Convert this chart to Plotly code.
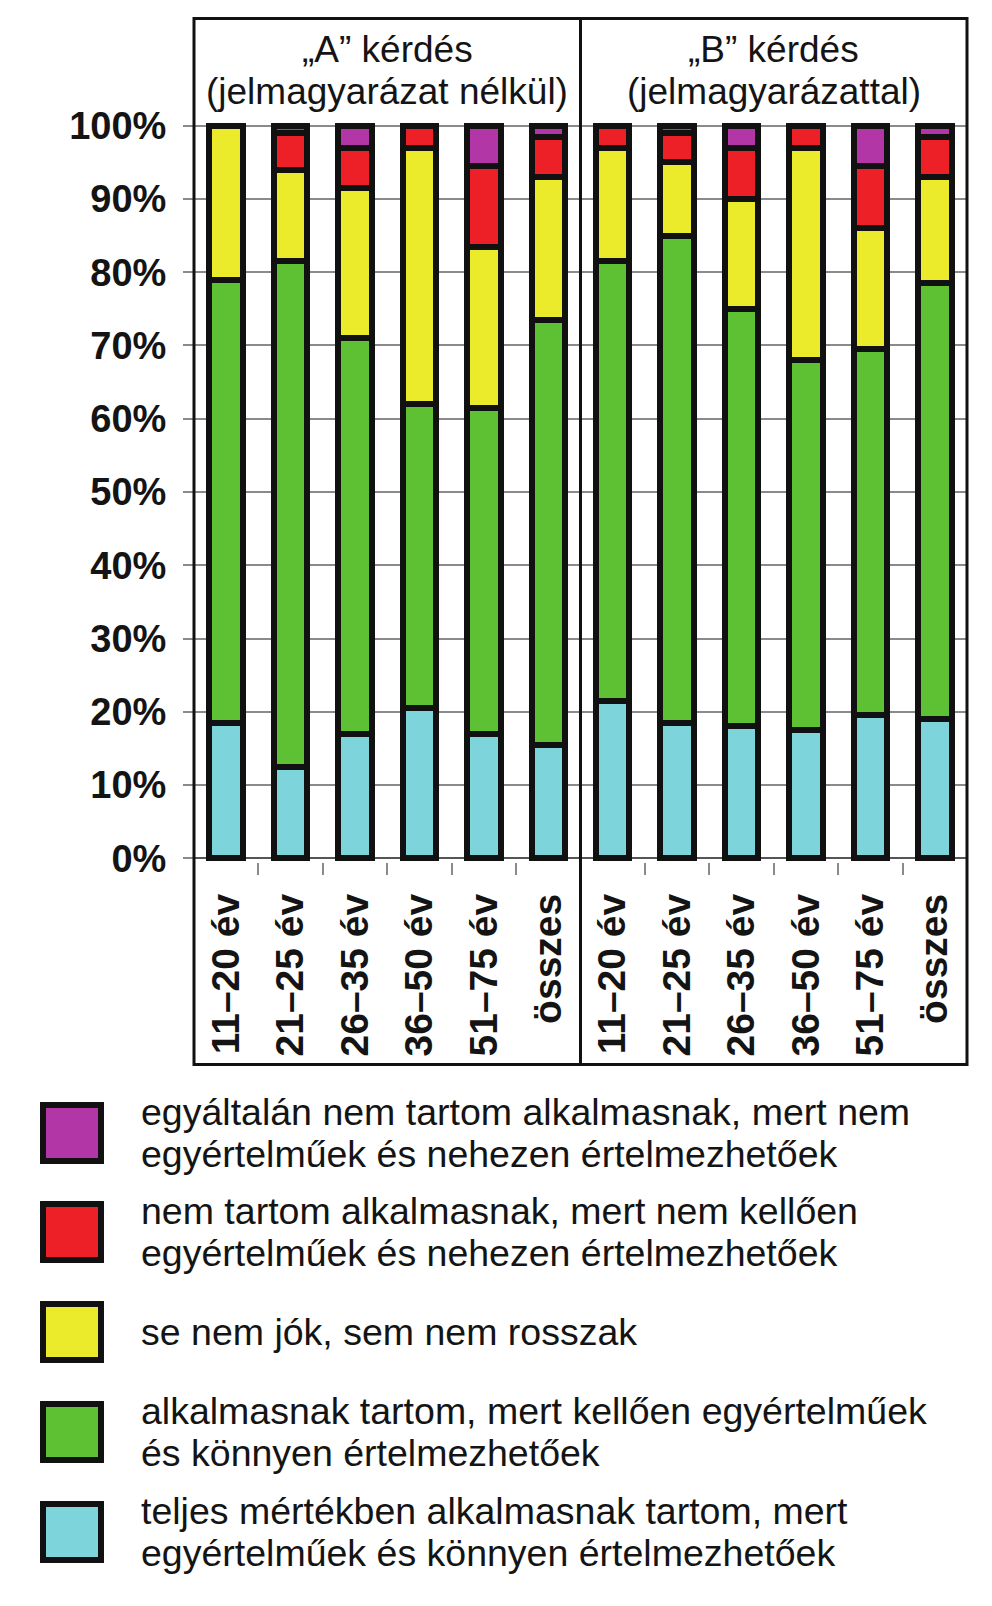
import plotly.graph_objects as go

# ---------------- data ----------------
categories = ["11–20 év", "21–25 év", "26–35 év", "36–50 év", "51–75 év", "összes",
              "11–20 év", "21–25 év", "26–35 év", "36–50 év", "51–75 év", "összes"]
group_titles = ["„A” kérdés\n(jelmagyarázat nélkül)", "„B” kérdés\n(jelmagyarázattal)"]

teljes = [18.5, 12.5, 17, 20.5, 17, 15.5, 21.5, 18.5, 18, 17.5, 19.5, 19]
alkalmas = [60.5, 69, 54, 41.5, 44.5, 58, 60, 66.5, 57, 50.5, 50, 59.5]
semleges = [21, 12.5, 20.5, 35, 22, 19.5, 15.5, 10, 15, 29, 16.5, 14.5]
nem_alkalmas = [0, 5, 5.5, 3, 11, 5.5, 3, 4, 7, 3, 8.5, 5.5]
egyaltalan = [0, 1, 3, 0, 5.5, 1.5, 0, 1, 3, 0, 5.5, 1.5]

series_names = [
    "teljes mértékben alkalmasnak tartom, mert\negyértelműek és könnyen értelmezhetőek",
    "alkalmasnak tartom, mert kellően egyértelműek\nés könnyen értelmezhetőek",
    "se nem jók, sem nem rosszak",
    "nem tartom alkalmasnak, mert nem kellően\negyértelműek és nehezen értelmezhetőek",
    "egyáltalán nem tartom alkalmasnak, mert nem\negyértelműek és nehezen értelmezhetőek",
]
series_values = [teljes, alkalmas, semleges, nem_alkalmas, egyaltalan]
series_colors = ["#7DD4DA", "#5EC133", "#ECEB2B", "#ED1F27", "#B236A6"]

y_ticks = [0, 10, 20, 30, 40, 50, 60, 70, 80, 90, 100]

# ---------------- layout geometry (figure pixels) ----------------
W, H = 976, 1590
L, R = 186, 959
T, B = 114, 854


def xp(px):
    return (px - L) / (R - L)


def yp(px):
    return (B - px) / (B - T)


FONT = "Liberation Sans, Arial, sans-serif"
TXT = "#141414"
x_pos = list(range(len(categories)))

fig = go.Figure()
for name, vals, col in zip(series_names, series_values, series_colors):
    fig.add_trace(go.Bar(
        x=x_pos, y=vals, name=name.replace("\n", " "), width=0.52,
        marker=dict(color=col, line=dict(color="#111111", width=6)),
        showlegend=False,
    ))

shapes = []
annotations = []

FRAME_TOP, FRAME_BOTTOM = 10.5, 1056.5
shapes.append(dict(type="rect", xref="paper", yref="paper", x0=0, x1=1,
                   y0=yp(FRAME_BOTTOM), y1=yp(FRAME_TOP),
                   line=dict(color="#111111", width=3), layer="above"))
shapes.append(dict(type="line", xref="x", yref="paper", x0=5.5, x1=5.5,
                   y0=yp(FRAME_BOTTOM), y1=yp(FRAME_TOP),
                   line=dict(color="#111111", width=3), layer="above"))

# group titles
for gi, title in enumerate(group_titles):
    for li, line in enumerate(title.split("\n")):
        annotations.append(dict(
            x=2.5 + 6 * gi, xref="x", y=yp(41 + 43 * li), yref="paper",
            text=line, showarrow=False, xanchor="center", yanchor="middle",
            font=dict(family=FONT, size=37, color=TXT)))

# legend (top to bottom: reverse stacking order)
leg_centers = [1125, 1224, 1324, 1424, 1524]
for i, idx in enumerate(range(len(series_names) - 1, -1, -1)):
    c = leg_centers[i]
    shapes.append(dict(type="rect", xref="paper", yref="paper",
                       x0=xp(35), x1=xp(93), y0=yp(c + 28), y1=yp(c - 28),
                       fillcolor=series_colors[idx],
                       line=dict(color="#111111", width=6)))
    lines = series_names[idx].split("\n")
    n = len(lines)
    for li, line in enumerate(lines):
        off = (li - (n - 1) / 2) * 42
        annotations.append(dict(
            x=xp(131), xref="paper", y=yp(c + off), yref="paper",
            text=line, showarrow=False, xanchor="left", yanchor="middle",
            font=dict(family=FONT, size=37.5, color=TXT)))

minor_vals = [i + 0.5 for i in range(len(categories) - 1) if i != 5]

fig.update_layout(
    width=W, height=H,
    margin=dict(l=L, r=W - R, t=T, b=H - B),
    paper_bgcolor="white", plot_bgcolor="white",
    barmode="stack", bargap=0,
    font=dict(family=FONT, color=TXT),
    shapes=shapes, annotations=annotations,
    xaxis=dict(
        range=[-0.5, 11.5], tickmode="array", tickvals=x_pos, ticktext=categories,
        tickangle=-90, ticks="", showgrid=False, zeroline=False, showline=False,
        tickfont=dict(family=FONT, size=39, weight="bold", color=TXT),
        ticklabelstandoff=23,
        minor=dict(tickmode="array", tickvals=minor_vals, ticks="outside",
                   ticklen=12, tickwidth=1.5, tickcolor="#8a8a8a", showgrid=False),
    ),
    yaxis=dict(
        range=[-0.5, 100.5], tickmode="array", tickvals=y_ticks,
        ticktext=[f"{v}%" for v in y_ticks],
        showgrid=True, gridcolor="#8a8a8a", gridwidth=2,
        zeroline=True, zerolinecolor="#555555", zerolinewidth=2,
        ticks="outside", ticklen=10, tickcolor="#8a8a8a", tickwidth=2,
        tickfont=dict(family=FONT, size=38, weight="bold", color=TXT),
        ticklabelstandoff=9, showline=False,
    ),
)

fig.write_html("out.html")
